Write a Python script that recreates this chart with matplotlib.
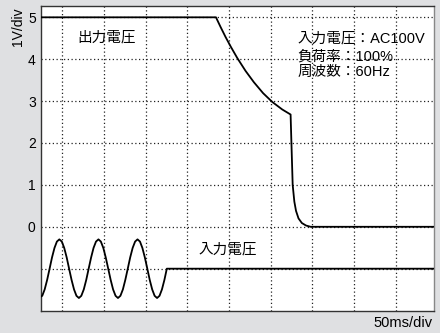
import matplotlib
matplotlib.use("Agg")
import matplotlib.pyplot as plt

# ---- data (x in divisions of 50 ms, y in volts, 1 V/div) ----
output_x = [0.0, 4.19, 4.30, 4.42, 4.55, 4.70, 4.90, 5.10, 5.32, 5.54, 5.78, 5.98,
            6.00, 6.03, 6.07, 6.11, 6.17, 6.25, 6.35, 6.46, 9.42]
output_y = [5.0, 5.0, 4.77, 4.53, 4.29, 4.03, 3.72, 3.45, 3.19, 2.98, 2.80, 2.68,
            2.0, 1.0, 0.60, 0.38, 0.20, 0.09, 0.03, 0.0, 0.0]

input_x = [0.0, 0.023, 0.081, 0.140, 0.199, 0.257, 0.316, 0.374,
           0.433, 0.492, 0.550, 0.609, 0.667, 0.726, 0.785, 0.843,
           0.902, 0.960, 1.019, 1.078, 1.136, 1.195, 1.253, 1.312,
           1.371, 1.429, 1.488, 1.546, 1.605, 1.664, 1.722, 1.781,
           1.839, 1.898, 1.957, 2.015, 2.074, 2.132, 2.191, 2.250,
           2.308, 2.367, 2.425, 2.484, 2.543, 2.601, 2.660, 2.718,
           2.777, 2.836, 2.894, 2.953, 3.011, 9.42]
input_y = [-1.66, -1.647, -1.495, -1.268, -1.0, -0.732, -0.505, -0.353,
           -0.30, -0.353, -0.505, -0.732, -1.0, -1.268, -1.495, -1.647,
           -1.70, -1.647, -1.495, -1.268, -1.0, -0.732, -0.505, -0.353,
           -0.30, -0.353, -0.505, -0.732, -1.0, -1.268, -1.495, -1.647,
           -1.70, -1.647, -1.495, -1.268, -1.0, -0.732, -0.505, -0.353,
           -0.30, -0.353, -0.505, -0.732, -1.0, -1.268, -1.495, -1.647,
           -1.70, -1.647, -1.495, -1.268, -1.0, -1.0]

y_ticks = [0, 1, 2, 3, 4, 5]
y_grid = [-1, 0, 1, 2, 3, 4, 5]
x_grid = [0.5, 1.5, 2.5, 3.5, 4.5, 5.5, 6.5, 7.5, 8.5]

label_output = "出力電圧"
label_input = "入力電圧"
cond_lines = ["入力電圧：AC100V", "負荷率：100%", "周波数：60Hz"]
y_label = "1V/div"
x_label = "50ms/div"

FAM = ["Liberation Sans", "Noto Sans CJK JP", "DejaVu Sans"]
plt.rcParams["font.family"] = FAM

fig = plt.figure(figsize=(4.4, 3.33), dpi=100, facecolor="#dfe0e2")
ax = fig.add_axes([41.3/440, 1-311/333, (434-41.3)/440, (311-6)/333])
ax.set_facecolor("white")
ax.set_xlim(0, 9.42)
ax.set_ylim(-2.01, 5.27)

for gx in x_grid:
    ax.axvline(gx, color="#222222", lw=0.9, ls=(0, (1, 2)), zorder=1)
for gy in y_grid:
    ax.axhline(gy, color="#222222", lw=0.9, ls=(0, (1, 2)), zorder=1)

ax.plot(output_x, output_y, color="black", lw=1.3, zorder=3, solid_joinstyle="round")
ax.plot(input_x, input_y, color="black", lw=1.3, zorder=3, solid_joinstyle="round")

ax.set_xticks([])
ax.set_yticks(y_ticks)
ax.set_yticklabels([str(t) for t in y_ticks], fontsize=10)
ax.tick_params(axis="y", length=0, pad=4)

for side in ["left", "top", "bottom"]:
    ax.spines[side].set_color("#333333")
    ax.spines[side].set_linewidth(1.0)
ax.spines["right"].set_color("#888888")
ax.spines["right"].set_linewidth(1.0)

ax.text(0.86, 4.52, label_output, fontsize=10.5, ha="left", va="center")
ax.text(3.77, -0.55, label_input, fontsize=10.5, ha="left", va="center")
for s, yy in zip(cond_lines, [4.50, 4.07, 3.69]):
    ax.text(6.15, yy, s, fontsize=10.5, ha="left", va="center")

fig.text(17.5/440, 1-27/333, y_label, rotation=90, fontsize=10, ha="center", va="center")
fig.text(433/440, 1-323/333, x_label, fontsize=10.5, ha="right", va="center")

fig.savefig("out.png", dpi=100, facecolor=fig.get_facecolor())
